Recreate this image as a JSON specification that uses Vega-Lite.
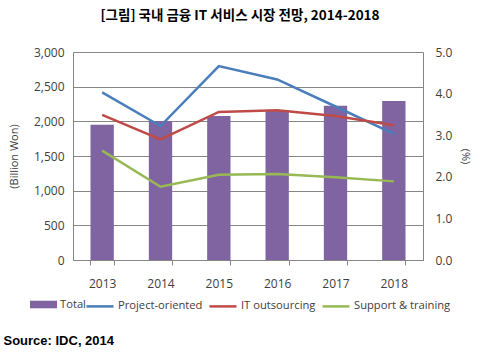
{
  "$schema": "https://vega.github.io/schema/vega-lite/v6.json",
  "width": 350,
  "height": 208,
  "autosize": {"type": "none"},
  "padding": {"left": 73, "top": 52, "right": 57, "bottom": 99},
  "background": "white",
  "title": {"text": "[그림] 국내 금융 IT 서비스 시장 전망, 2014-2018", "font": "Noto Sans CJK KR", "fontSize": 13.5, "fontWeight": "bold", "color": "black", "anchor": "middle", "dx": -8, "offset": 24},
  "config": {
    "view": {"stroke": null},
    "axis": {"labelFont": "Open Sans", "labelFontSize": 12, "labelColor": "#404040", "titleFont": "Open Sans", "titleFontSize": 11, "titleFontWeight": "normal", "titleColor": "#404040", "domainColor": "#868686", "tickColor": "#868686", "gridColor": "#868686"},
    "legend": {"labelFont": "Open Sans", "labelFontSize": 11.2, "labelColor": "#404040"}
  },
  "data": {"values": [
    {"year": "2013", "series": "Total", "value": 1950},
    {"year": "2014", "series": "Total", "value": 2005},
    {"year": "2015", "series": "Total", "value": 2077},
    {"year": "2016", "series": "Total", "value": 2154},
    {"year": "2017", "series": "Total", "value": 2226},
    {"year": "2018", "series": "Total", "value": 2293},
    {"year": "2013", "series": "Project-oriented", "value": 4.03},
    {"year": "2014", "series": "Project-oriented", "value": 3.22},
    {"year": "2015", "series": "Project-oriented", "value": 4.66},
    {"year": "2016", "series": "Project-oriented", "value": 4.34},
    {"year": "2017", "series": "Project-oriented", "value": 3.69},
    {"year": "2018", "series": "Project-oriented", "value": 3.03},
    {"year": "2013", "series": "IT outsourcing", "value": 3.49},
    {"year": "2014", "series": "IT outsourcing", "value": 2.90},
    {"year": "2015", "series": "IT outsourcing", "value": 3.56},
    {"year": "2016", "series": "IT outsourcing", "value": 3.60},
    {"year": "2017", "series": "IT outsourcing", "value": 3.46},
    {"year": "2018", "series": "IT outsourcing", "value": 3.24},
    {"year": "2013", "series": "Support & training", "value": 2.63},
    {"year": "2014", "series": "Support & training", "value": 1.76},
    {"year": "2015", "series": "Support & training", "value": 2.05},
    {"year": "2016", "series": "Support & training", "value": 2.07},
    {"year": "2017", "series": "Support & training", "value": 1.99},
    {"year": "2018", "series": "Support & training", "value": 1.89}
  ]},
  "encoding": {
    "x": {"field": "year", "type": "nominal", "scale": {"paddingInner": 0.6, "paddingOuter": 0.3},
      "axis": {"labelAngle": 0, "tickBand": "extent", "tickSize": 5, "labelPadding": 13, "grid": false,
        "title": "Source: IDC, 2014", "titleFont": "Liberation Sans", "titleFontSize": 13, "titleFontWeight": "bold", "titleColor": "black", "titleAnchor": "start", "titleAlign": "left", "titleX": -70, "titleY": 80, "titleBaseline": "middle"}}
  },
  "layer": [
    {
      "transform": [{"filter": "datum.series === 'Total'"}],
      "mark": {"type": "bar"},
      "encoding": {
        "y": {"field": "value", "type": "quantitative", "scale": {"domain": [0, 3000]},
          "axis": {"title": "(Billion Won)", "values": [0, 500, 1000, 1500, 2000, 2500, 3000], "format": ",d", "ticks": false, "labelPadding": 9, "titlePadding": 14, "grid": true, "gridColor": "#868686", "domainColor": "#868686"}},
        "fill": {"field": "series", "type": "nominal", "scale": {"domain": ["Total"], "range": ["#8064A2"]},
          "legend": {"title": null, "orient": "none", "legendX": -43, "legendY": 239, "symbolType": "M-1,-0.28H1V0.28H-1Z", "symbolSize": 729, "symbolStrokeWidth": 0, "labelOffset": 3}}
      }
    },
    {
      "transform": [{"filter": "datum.series !== 'Total'"}],
      "mark": {"type": "line", "strokeWidth": 2.5},
      "encoding": {
        "y": {"field": "value", "type": "quantitative", "scale": {"domain": [0, 5]},
          "axis": {"orient": "right", "title": "(%)", "values": [0, 1, 2, 3, 4, 5], "format": ".1f", "ticks": false, "labelPadding": 12, "titlePadding": 8, "grid": false, "domainColor": "#868686"}},
        "stroke": {"field": "series", "type": "nominal", "scale": {"domain": ["Project-oriented", "IT outsourcing", "Support & training"], "range": ["#4A7EBB", "#BE4B48", "#98B954"]},
          "legend": {"title": null, "orient": "none", "legendX": 12, "legendY": 239, "direction": "horizontal", "symbolType": "stroke", "symbolSize": 729, "symbolStrokeWidth": 2.5, "labelOffset": 3, "columnPadding": 1}}
      }
    }
  ],
  "resolve": {"scale": {"y": "independent"}}
}
